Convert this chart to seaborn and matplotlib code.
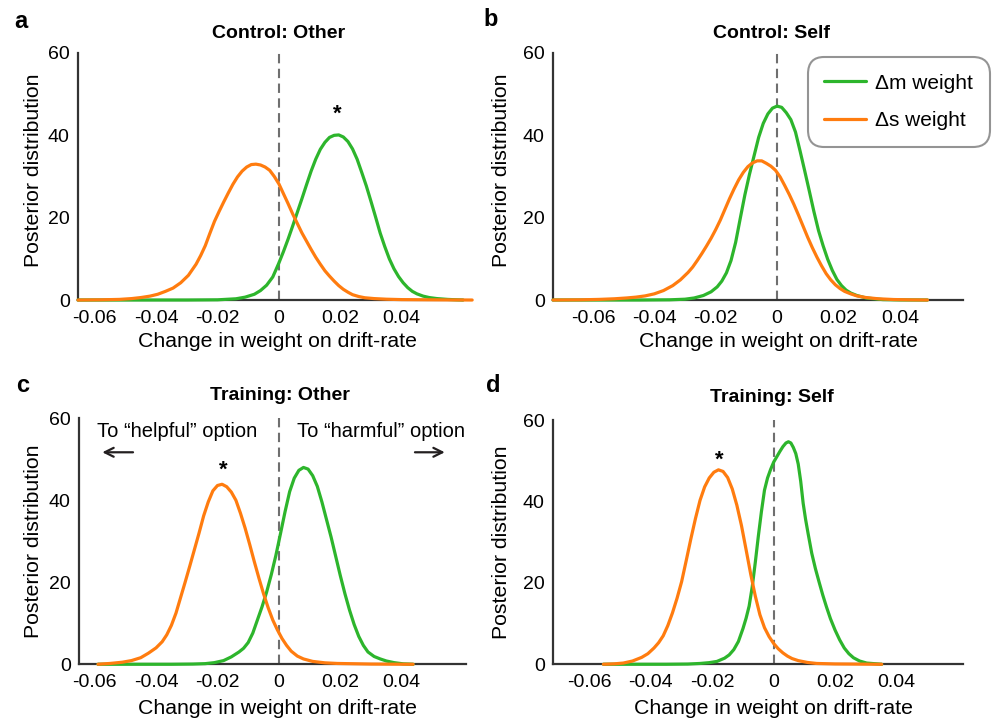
import matplotlib
matplotlib.use('Agg')
import matplotlib.pyplot as plt
from matplotlib.lines import Line2D
import seaborn as sns
import pandas as pd

# %% data
GREEN = '#2db52c'
ORANGE = '#ff7c0f'

# a - Control: Other
ctrl_other_m_x = [-0.0655, -0.030, -0.020, -0.014, -0.011, -0.008, -0.006, -0.004, -0.002, 0.000,
                  0.0015, 0.003, 0.0045, 0.006, 0.0075, 0.009, 0.0105, 0.012, 0.0135, 0.015,
                  0.0165, 0.018, 0.0195, 0.021, 0.0225, 0.024, 0.0255, 0.027, 0.0285, 0.030,
                  0.0315, 0.033, 0.0345, 0.036, 0.0375, 0.039, 0.0405, 0.042, 0.0435, 0.045,
                  0.047, 0.049, 0.0515, 0.055, 0.058, 0.060]
ctrl_other_m_y = [0.0, 0.0, 0.05, 0.3, 0.7, 1.4, 2.3, 3.6, 5.6, 9.0,
                  11.8, 14.8, 18.0, 21.3, 24.6, 28.0, 31.3, 34.2, 36.6, 38.3,
                  39.5, 40.0, 40.1, 39.6, 38.5, 36.7, 34.2, 31.0, 27.7, 24.0,
                  20.2, 16.3, 13.0, 10.0, 7.6, 5.7, 4.2, 3.0, 2.1, 1.5,
                  0.95, 0.6, 0.35, 0.15, 0.05, 0.0]
ctrl_other_s_x = [-0.0655, -0.058, -0.052, -0.048, -0.045, -0.042, -0.0395, -0.037, -0.0345, -0.032,
                  -0.0295, -0.027, -0.0255, -0.024, -0.0225, -0.021, -0.0195, -0.018, -0.0165, -0.015,
                  -0.0135, -0.012, -0.0105, -0.009, -0.0075, -0.006, -0.0045, -0.003, -0.0015, 0.000,
                  0.0015, 0.003, 0.0045, 0.006, 0.0075, 0.009, 0.0105, 0.012, 0.0135, 0.015,
                  0.0165, 0.018, 0.0195, 0.021, 0.0225, 0.024, 0.026, 0.028, 0.031, 0.035,
                  0.040, 0.050, 0.063]
ctrl_other_s_y = [0.0, 0.05, 0.15, 0.35, 0.6, 0.95, 1.4, 2.1, 2.9, 4.2,
                  6.0, 8.7, 10.8, 13.2, 16.2, 19.1, 21.5, 23.8, 26.0, 28.1,
                  29.9, 31.3, 32.3, 32.9, 33.0, 32.8, 32.3, 31.5, 30.0, 28.2,
                  25.8, 23.4, 20.9, 18.6, 16.3, 14.3, 12.3, 10.4, 8.7, 7.1,
                  5.8, 4.6, 3.5, 2.6, 1.9, 1.3, 0.85, 0.55, 0.35, 0.2,
                  0.1, 0.05, 0.0]

# b - Control: Self
ctrl_self_m_x = [-0.073, -0.045, -0.035, -0.030, -0.027, -0.024, -0.0215, -0.0195, -0.018, -0.0165,
                 -0.015, -0.0135, -0.012, -0.0105, -0.009, -0.0075, -0.006, -0.0045, -0.003, -0.0015,
                 0.000, 0.0015, 0.003, 0.0045, 0.006, 0.0075, 0.009, 0.0105, 0.012, 0.0135,
                 0.015, 0.0165, 0.018, 0.0195, 0.021, 0.0225, 0.024, 0.026, 0.029, 0.0345,
                 0.040, 0.049]
ctrl_self_m_y = [0.0, 0.0, 0.05, 0.2, 0.5, 1.1, 2.0, 3.2, 4.6, 6.6,
                 9.6, 14.0, 19.8, 25.5, 30.5, 35.0, 39.5, 42.9, 45.2, 46.6,
                 47.1, 46.8, 45.5, 43.8, 40.8, 36.2, 31.4, 26.5, 21.5, 16.9,
                 13.2, 9.9, 7.2, 5.0, 3.5, 2.4, 1.7, 1.1, 0.5, 0.1,
                 0.02, 0.0]
ctrl_self_s_x = [-0.073, -0.064, -0.058, -0.053, -0.049, -0.046, -0.043, -0.040, -0.037, -0.034,
                 -0.0315, -0.029, -0.0275, -0.026, -0.0245, -0.023, -0.0215, -0.020, -0.0185, -0.017,
                 -0.0155, -0.014, -0.0125, -0.011, -0.0095, -0.008, -0.0065, -0.005, -0.0035, -0.002,
                 -0.0005, 0.001, 0.0025, 0.004, 0.0055, 0.007, 0.0085, 0.010, 0.0115, 0.013,
                 0.0145, 0.016, 0.0175, 0.019, 0.0205, 0.022, 0.024, 0.026, 0.029, 0.033,
                 0.038, 0.043, 0.049]
ctrl_self_s_y = [0.0, 0.05, 0.15, 0.3, 0.5, 0.7, 1.0, 1.5, 2.3, 3.5,
                 4.9, 6.7, 8.0, 9.6, 11.3, 13.1, 15.0, 17.1, 19.4, 22.0,
                 24.6, 27.0, 29.2, 31.0, 32.4, 33.3, 33.8, 33.8, 33.2, 32.5,
                 31.5, 29.9, 27.8, 25.6, 23.2, 20.6, 17.9, 15.2, 12.7, 10.4,
                 8.3, 6.4, 4.9, 3.7, 2.8, 2.1, 1.5, 1.0, 0.6, 0.3,
                 0.12, 0.05, 0.0]

# c - Training: Other
train_other_m_x = [-0.0589, -0.035, -0.028, -0.024, -0.021, -0.018, -0.0155, -0.013, -0.0115, -0.010,
                   -0.0085, -0.007, -0.0055, -0.004, -0.0025, -0.001, 0.0005, 0.002, 0.0035, 0.005,
                   0.0065, 0.008, 0.0095, 0.011, 0.0125, 0.014, 0.0155, 0.017, 0.0185, 0.020,
                   0.0215, 0.023, 0.0245, 0.026, 0.0275, 0.029, 0.031, 0.033, 0.035, 0.0375,
                   0.0405, 0.0437]
train_other_m_y = [0.0, 0.0, 0.05, 0.15, 0.4, 0.9, 1.8, 3.0, 3.9, 5.3,
                   7.6, 10.8, 14.0, 17.6, 21.8, 26.5, 31.8, 37.2, 42.1, 45.4,
                   47.3, 48.0, 47.6, 46.0, 43.4, 39.6, 35.3, 31.0, 26.3, 21.6,
                   17.2, 13.2, 9.7, 6.8, 4.6, 3.0, 1.9, 1.3, 0.8, 0.4,
                   0.1, 0.0]
train_other_s_x = [-0.0589, -0.055, -0.051, -0.048, -0.045, -0.0425, -0.040, -0.038, -0.0365, -0.035,
                   -0.0335, -0.032, -0.0305, -0.029, -0.0275, -0.026, -0.0245, -0.023, -0.0215, -0.020,
                   -0.0185, -0.017, -0.0155, -0.014, -0.0125, -0.011, -0.0095, -0.008, -0.0065, -0.005,
                   -0.0035, -0.002, -0.0005, 0.001, 0.0025, 0.004, 0.006, 0.008, 0.011, 0.015,
                   0.019, 0.030, 0.0437]
train_other_s_y = [0.0, 0.2, 0.5, 0.9, 1.6, 2.7, 4.0, 5.5, 7.2, 9.5,
                   12.5, 16.3, 20.1, 24.0, 28.0, 32.0, 36.2, 39.6, 42.3, 43.6,
                   43.9, 43.3, 42.0, 40.0, 36.8, 33.2, 29.2, 25.0, 21.0, 17.2,
                   13.8, 10.8, 8.4, 6.3, 4.6, 3.2, 2.0, 1.3, 0.7, 0.35,
                   0.2, 0.05, 0.0]

# d - Training: Self
train_self_m_x = [-0.0555, -0.035, -0.028, -0.024, -0.021, -0.0185, -0.016, -0.0145, -0.013, -0.0115,
                  -0.010, -0.009, -0.008, -0.007, -0.006, -0.005, -0.004, -0.003, -0.002, -0.001,
                  0.000, 0.001, 0.002, 0.003, 0.004, 0.0048, 0.0056, 0.0064, 0.0072, 0.008,
                  0.0088, 0.0096, 0.0104, 0.0112, 0.0124, 0.0136, 0.0148, 0.016, 0.0172, 0.0185,
                  0.020, 0.0215, 0.023, 0.0245, 0.026, 0.028, 0.0303, 0.0352]
train_self_m_y = [0.0, 0.0, 0.05, 0.2, 0.4, 0.7, 1.5, 2.3, 3.6, 5.6,
                  8.8, 11.3, 14.3, 19.0, 25.0, 31.5, 37.5, 42.8, 45.8, 47.9,
                  49.7, 51.0, 52.3, 53.5, 54.4, 54.7, 54.4, 53.3, 51.8, 49.2,
                  45.0, 39.6, 35.6, 32.2, 27.3, 23.5, 20.2, 17.0, 14.1, 11.2,
                  8.4, 6.0, 4.0, 2.6, 1.6, 0.8, 0.3, 0.0]
train_self_s_x = [-0.0555, -0.052, -0.049, -0.046, -0.043, -0.041, -0.039, -0.0375, -0.036, -0.0345,
                  -0.033, -0.0315, -0.030, -0.0285, -0.027, -0.0255, -0.024, -0.0225, -0.021, -0.0195,
                  -0.018, -0.0165, -0.015, -0.0135, -0.012, -0.0105, -0.009, -0.0075, -0.006, -0.0045,
                  -0.003, -0.0015, 0.000, 0.0015, 0.003, 0.0045, 0.006, 0.008, 0.011, 0.014,
                  0.020, 0.0352]
train_self_s_y = [0.0, 0.1, 0.3, 0.8, 1.7, 2.6, 4.0, 5.3, 7.0, 9.5,
                  12.6, 16.2, 20.3, 25.5, 30.8, 35.8, 40.3, 43.6, 45.8, 47.2,
                  47.8, 47.4, 45.9, 43.1, 39.1, 34.1, 28.2, 22.2, 16.8, 12.2,
                  9.0, 6.8, 5.1, 3.8, 2.8, 2.0, 1.4, 0.9, 0.45, 0.2,
                  0.08, 0.0]

xtick_vals = [-0.06, -0.04, -0.02, 0, 0.02, 0.04]
xtick_labels = ['-0.06', '-0.04', '-0.02', '0', '0.02', '0.04']
ytick_vals = [0, 20, 40, 60]

# %% style
sns.set_style('white')
plt.rcParams['font.family'] = ['Liberation Sans', 'DejaVu Sans']
plt.rcParams['text.color'] = 'black'
plt.rcParams['axes.labelcolor'] = 'black'

fig = plt.figure(figsize=(9.92, 7.2), dpi=100)

panels = [
    # letter, title, rect, xlim, (mx, my, sx, sy)
    ('a', 'Control: Other', [0.0786, 0.5833, 0.3881, 0.3431], (-0.0655, 0.060),
     (ctrl_other_m_x, ctrl_other_m_y, ctrl_other_s_x, ctrl_other_s_y)),
    ('b', 'Control: Self', [0.5575, 0.5833, 0.4133, 0.3431], (-0.073, 0.0606),
     (ctrl_self_m_x, ctrl_self_m_y, ctrl_self_s_x, ctrl_self_s_y)),
    ('c', 'Training: Other', [0.0796, 0.0774, 0.3901, 0.3417], (-0.0651, 0.0609),
     (train_other_m_x, train_other_m_y, train_other_s_x, train_other_s_y)),
    ('d', 'Training: Self', [0.5575, 0.0774, 0.4133, 0.3390], (-0.0719, 0.0617),
     (train_self_m_x, train_self_m_y, train_self_s_x, train_self_s_y)),
]

axes = {}
for letter, title, rect, xlim, (mx, my, sx, sy) in panels:
    ax = fig.add_axes(rect)
    axes[letter] = ax
    df = pd.concat([
        pd.DataFrame({'x': mx, 'y': my, 'series': 'm'}),
        pd.DataFrame({'x': sx, 'y': sy, 'series': 's'}),
    ])
    ax.axvline(0, color='#6f6f6f', lw=1.5, ls=(0, (4.5, 2.6)), zorder=1)
    sns.lineplot(data=df, x='x', y='y', hue='series', palette={'m': GREEN, 's': ORANGE},
                 sort=False, estimator=None, legend=False, lw=2.3, ax=ax, clip_on=False,
                 zorder=3, solid_joinstyle='round')
    ax.set_xlim(*xlim)
    ax.set_ylim(0, 60)
    ax.set_xticks(xtick_vals)
    ax.set_xticklabels(xtick_labels)
    ax.set_yticks(ytick_vals)
    ax.tick_params(length=0, labelsize=14, colors='black', pad=7)
    ax.tick_params(axis='y', pad=6)
    sns.despine(ax=ax)
    for s in ['left', 'bottom']:
        ax.spines[s].set_color('#333333')
        ax.spines[s].set_linewidth(1.6)
    ax.set_xlabel('Change in weight on drift-rate', fontsize=15.3)
    ax.set_ylabel('Posterior distribution', fontsize=15.3)

# label/title positions tuned per panel
axes['a'].xaxis.set_label_coords(0.519, -0.128)
axes['b'].xaxis.set_label_coords(0.551, -0.128)
axes['c'].xaxis.set_label_coords(0.514, -0.142)
axes['d'].xaxis.set_label_coords(0.537, -0.142)
axes['a'].yaxis.set_label_coords(-0.090, 0.526)
axes['b'].yaxis.set_label_coords(-0.103, 0.526)
axes['c'].yaxis.set_label_coords(-0.093, 0.50)
axes['d'].yaxis.set_label_coords(-0.103, 0.50)

title_pos = {'a': (0.522, 1.077), 'b': (0.532, 1.077), 'c': (0.519, 1.091), 'd': (0.533, 1.091)}
for letter, title, *_ in panels:
    tx, ty = title_pos[letter]
    axes[letter].text(tx, ty, title, transform=axes[letter].transAxes, ha='center', va='center',
                      fontsize=14, fontweight='bold')

letter_pos = {'a': (21, 22), 'b': (491, 20), 'c': (23, 385), 'd': (493, 385)}
for letter, (px, py) in letter_pos.items():
    fig.text(px / 992, 1 - py / 720, letter, ha='center', va='center', fontsize=17, fontweight='bold')

# significance stars
axes['a'].text(0.019, 43.8, '*', ha='center', va='baseline', fontsize=16, fontweight='bold')
axes['c'].text(-0.0182, 46.1, '*', ha='center', va='baseline', fontsize=16, fontweight='bold')
axes['d'].text(-0.0178, 48.9, '*', ha='center', va='baseline', fontsize=16, fontweight='bold')

# direction annotations
axc = axes['c']
axc.text(-0.0332, 56.8, 'To \u201chelpful\u201d option', ha='center', va='center', fontsize=14.5)
axc.text(0.0331, 56.8, 'To \u201charmful\u201d option', ha='center', va='center', fontsize=14.5, clip_on=False)
axc.annotate('', xy=(-0.0575, 51.7), xytext=(-0.0475, 51.7),
             arrowprops=dict(arrowstyle='->', color='#231f20', lw=1.6, shrinkA=0, shrinkB=0,
                             mutation_scale=16))
axc.annotate('', xy=(0.054, 51.7), xytext=(0.0443, 51.7),
             arrowprops=dict(arrowstyle='->', color='#231f20', lw=1.6, shrinkA=0, shrinkB=0,
                             mutation_scale=16))

# legend
handles = [Line2D([0], [0], color=GREEN, lw=2.3), Line2D([0], [0], color=ORANGE, lw=2.3)]
leg = axes['b'].legend(handles, ['\u0394m weight', '\u0394s weight'], loc='upper right',
                       bbox_to_anchor=(990 / 992, 1 - 57 / 720), bbox_transform=fig.transFigure,
                       fontsize=15, frameon=True, fancybox=True, handlelength=2.0,
                       handletextpad=0.45, labelspacing=0.9, borderpad=0.8, borderaxespad=0)
leg.get_frame().set_edgecolor('#7a7a7a')
leg.get_frame().set_linewidth(1.5)
leg.get_frame().set_boxstyle('round,pad=0,rounding_size=0.8')

fig.savefig('out.png', dpi=100)
